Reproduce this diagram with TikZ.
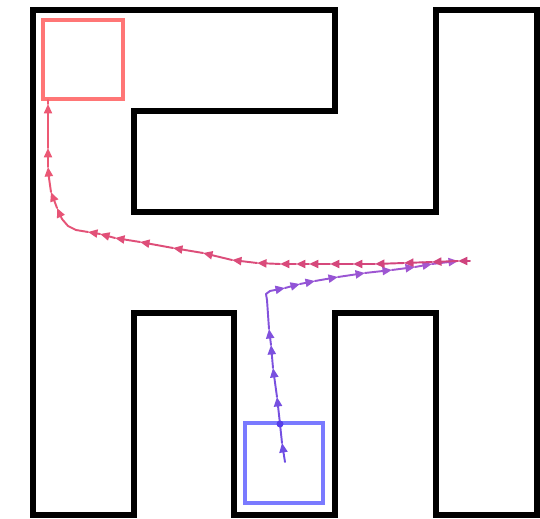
\documentclass[tikz,border=0pt]{standalone}
\usetikzlibrary{arrows.meta}
\definecolor{redL}{RGB}{238,90,116}
\definecolor{redR}{RGB}{206,66,126}
\definecolor{purB}{RGB}{108,78,228}
\definecolor{purT}{RGB}{168,88,206}
\definecolor{boxred}{RGB}{255,118,118}
\definecolor{boxblue}{RGB}{122,122,255}
\begin{document}
\begin{tikzpicture}[x=0.02cm,y=-0.02cm,
  wall/.style={line width=2.9pt,black,line join=miter},
  goalbox/.style={line width=2.8pt},
  traj/.style={line width=1.1pt,line cap=round},
  arr1/.style={-{Triangle[length=5.4pt,width=4.6pt]}},
  arr0/.style={}]
\useasboundingbox (0,0) rectangle (540,519);
% maze walls
\draw[wall] (33,515) -- (134,515) -- (134,313) -- (234,313) -- (234,515) -- (335,515)
  -- (335,313) -- (436,313) -- (436,515) -- (537,515) -- (537,10) -- (436,10)
  -- (436,212) -- (134,212) -- (134,111) -- (335,111) -- (335,10) -- (33,10) -- cycle;
% goal and start boxes
\draw[goalbox,boxred] (43,20) rectangle (123,99);
\draw[goalbox,boxblue] (245,423) rectangle (323,503);
% purple trajectory
\foreach \x/\y/\f [count=\i, remember=\x as \px (initially 285), remember=\y as \py (initially 462)] in
 {282/443/1, 280/424/0, 277/397/1, 273/368/1, 271/345/1, 269/329/1, 267/300/0, 266/294/0,
  270/291/0, 285/288/1, 300/284/1, 315/281/1, 338/277/1, 365/273/1, 392/270/1, 415/267/1,
  432/264/1, 458/261/1}
{
  \pgfmathtruncatemacro\m{100*\i/18}
  \draw[traj, arr\f, color=purT!\m!purB] (\px,\py) -- (\x,\y);
}
\fill[purB!80!blue] (280,424) circle (3.5);
% red trajectory
\foreach \x/\y/\f [count=\i, remember=\x as \px (initially 470), remember=\y as \py (initially 261)] in
 {458/261/1, 432/262/1, 404/263/1, 375/264/1, 353/264/1, 330/264/1, 309/264/1, 296/264/1,
  280/264/1, 257/263/1, 232/260/1, 203/253/1, 173/248/1, 140/242/1, 115/238/1, 100/234/1,
  88/232/1, 76/230/0, 68/226/0, 62/219/0, 57/208/1, 51/192/1, 49/178/0, 48/167/1, 48/148/1,
  48/104/1, 48/100/0}
{
  \pgfmathtruncatemacro\m{100*\i/27}
  \draw[traj, arr\f, color=redL!\m!redR] (\px,\py) -- (\x,\y);
}
\end{tikzpicture}
\end{document}
